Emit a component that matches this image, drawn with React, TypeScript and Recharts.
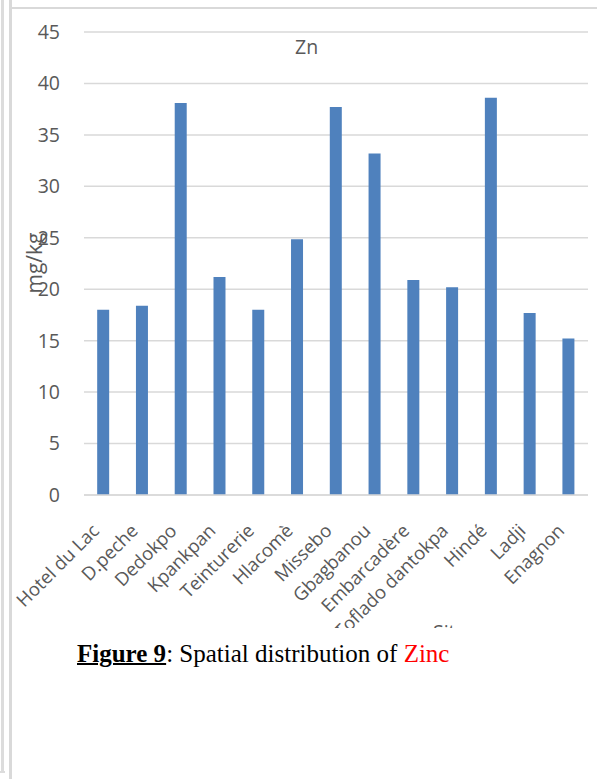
import React from "react";
import { BarChart, Bar, XAxis, YAxis, CartesianGrid } from "recharts";

const SITES = [
  "Hotel du Lac", "D.peche", "Dedokpo", "Kpankpan", "Teinturerie", "Hlacomè",
  "Missebo", "Gbagbanou", "Embarcadère", "Toflado dantokpa", "Hindé", "Ladji", "Enagnon",
];
const ZN = [18.0, 18.4, 38.1, 21.2, 18.0, 24.85, 37.7, 33.2, 20.9, 20.2, 38.6, 17.7, 15.2];
const Y_TICKS = [0, 5, 10, 15, 20, 25, 30, 35, 40, 45];

const data = SITES.map((site, i) => ({ site, zn: ZN[i] }));

const GREY = "#595959";
const FONT = "'Open Sans', sans-serif";

const SiteTick = (props: any) => {
  const { x, y, payload } = props;
  const ax = x - 3;
  const ay = y + 29;
  return (
    <text x={ax} y={ay} textAnchor="end" fill={GREY} fontSize={18.5} fontFamily={FONT}
      transform={`rotate(-45, ${ax}, ${ay})`}>
      {payload.value}
    </text>
  );
};

const App: React.FC = () => (
  <div style={{ position: "absolute", left: 0, top: 0, width: 597, height: 779, overflow: "hidden", background: "#fff" }}>
    {/* outer page frame */}
    <div style={{ position: "absolute", left: 1, top: 0, width: 3, height: 772, background: "#dcdcdc" }} />
    <div style={{ position: "absolute", left: 0, top: 771, width: 5, height: 2, background: "#dcdcdc" }} />
    {/* chart frame */}
    <div style={{ position: "absolute", left: 9, top: 0, width: 3, height: 779, background: "#d9d9d9" }} />
    <div style={{ position: "absolute", left: 9, top: 7, width: 600, height: 2, background: "#d9d9d9" }} />

    <div style={{ position: "absolute", left: 12, top: 9, width: 600, height: 619, overflow: "hidden" }}>
      <BarChart width={600} height={619} data={data} barCategoryGap="34%"
        margin={{ top: 23, right: 24, left: 0, bottom: 0 }}>
        <CartesianGrid vertical={false} stroke="#d9d9d9" strokeWidth={1.5} />
        <XAxis dataKey="site" interval={0} height={133} tickLine={false}
          axisLine={{ stroke: "#d9d9d9", strokeWidth: 1.5 }} tick={<SiteTick />} />
        <YAxis width={72} domain={[0, 45]} ticks={Y_TICKS} axisLine={false} tickLine={false}
          tickMargin={18} tick={{ fill: GREY, fontSize: 19.5, fontFamily: FONT }} />
        <Bar dataKey="zn" fill="#4f81bd" isAnimationActive={false} />
      </BarChart>
      <div style={{ position: "absolute", left: 283, top: 24, color: GREY, fontSize: 19.5, fontFamily: FONT }}>Zn</div>
      <div style={{ position: "absolute", left: 22, top: 254, transform: "translate(-50%, -50%) rotate(-90deg)",
        color: GREY, fontSize: 21, fontFamily: FONT, whiteSpace: "nowrap" }}>mg/kg</div>
      <div style={{ position: "absolute", left: 421, top: 609, color: GREY, fontSize: 19.5, fontFamily: FONT }}>Sites</div>
    </div>

    <div style={{ position: "absolute", left: 77, top: 640, fontFamily: "'Liberation Serif', serif", fontSize: 25,
      color: "#000", whiteSpace: "nowrap" }}>
      <span style={{ fontWeight: "bold", textDecoration: "underline", textDecorationThickness: 2 }}>Figure 9</span>
      : Spatial distribution of <span style={{ color: "#ff0000" }}>Zinc</span>
    </div>
  </div>
);

export default App;
